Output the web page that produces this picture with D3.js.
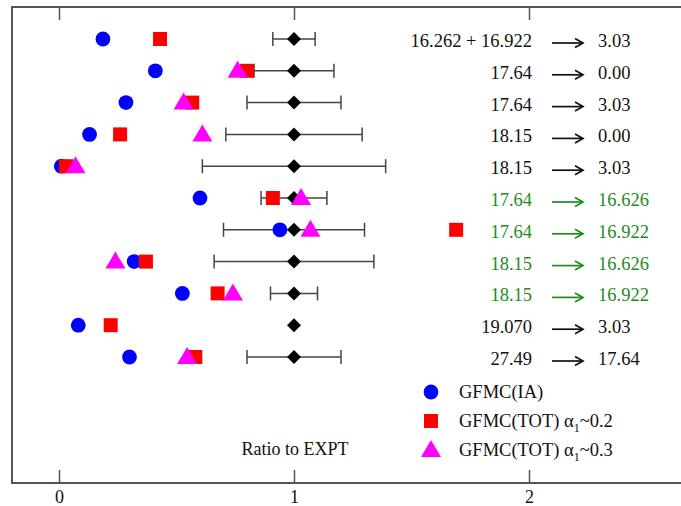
<!DOCTYPE html>
<html>
<head>
<meta charset="utf-8">
<script src="https://cdn.jsdelivr.net/npm/d3@7"></script>
<style>
    body { margin: 0; background: #fff; }
</style>
</head>
<body>
<script>
(function () {
    'use strict';

    // transitions, one per row (top to bottom)
    var fromLabels = ['16.262 + 16.922', '17.64', '17.64', '18.15', '18.15', '17.64', '17.64', '18.15', '18.15', '19.070', '27.49'];
    var toLabels = ['3.03', '0.00', '3.03', '0.00', '3.03', '16.626', '16.922', '16.626', '16.922', '3.03', '17.64'];
    var rowGroup = ['low', 'low', 'low', 'low', 'low', 'high', 'high', 'high', 'high', 'low', 'low'];

    // ratio to experiment
    var exptRatio = [1, 1, 1, 1, 1, 1, 1, 1, 1, 1, 1];
    var exptError = [0.09, 0.17, 0.20, 0.29, 0.39, 0.14, 0.30, 0.34, 0.10, 0, 0.20];
    var gfmcIA = [0.187, 0.41, 0.285, 0.13, 0.01, 0.60, 0.94, 0.32, 0.525, 0.082, 0.30];
    var gfmcTot02 = [0.43, 0.80, 0.567, 0.26, 0.03, 0.91, 1.69, 0.37, 0.675, 0.22, 0.58];
    var gfmcTot03 = [null, 0.76, 0.53, 0.61, 0.07, 1.03, 1.07, 0.24, 0.74, null, 0.545];

    var xTicks = [0, 1, 2];
    var legendLabels = ['GFMC(IA)', 'GFMC(TOT)', 'GFMC(TOT)'];
    var legendAlpha = [null, '~0.2', '~0.3'];

    var width = 681;
    var height = 506;
    var serif = "'Liberation Serif', 'Times New Roman', serif";
    var frameColor = '#555';
    var errColor = '#444';
    var groupColor = { low: '#111', high: '#1d8c1d' };

    var svg = d3.select('body').append('svg')
        .attr('width', width)
        .attr('height', height)
        .attr('font-family', serif)
        .style('display', 'block');

    var x = d3.scaleLinear().domain([0, 2]).range([59, 529]);
    var rowIdx = d3.range(fromLabels.length);
    var y = d3.scalePoint().domain(rowIdx).range([39, 357]);

    var top = 7, bottom = 483;

    // frame (right side falls outside the window)
    svg.append('path')
        .attr('d', 'M' + x(2.9) + ',' + top + 'H' + x(-0.2) + 'V' + bottom + 'H' + x(2.9))
        .attr('fill', 'none')
        .attr('stroke', frameColor)
        .attr('stroke-width', 2);

    var axisB = svg.append('g')
        .attr('transform', 'translate(0,' + bottom + ')')
        .call(d3.axisBottom(x).tickValues(xTicks).tickFormat(d3.format('d'))
            .tickSize(-13).tickPadding(7));
    axisB.attr('font-family', serif).attr('font-size', 18);
    axisB.select('.domain').remove();
    axisB.selectAll('line').attr('stroke', frameColor).attr('stroke-width', 1.5);
    axisB.selectAll('text').attr('fill', '#111');

    var axisT = svg.append('g')
        .attr('transform', 'translate(0,' + top + ')')
        .call(d3.axisTop(x).tickValues(xTicks).tickFormat('').tickSize(-13));
    axisT.select('.domain').remove();
    axisT.selectAll('line').attr('stroke', frameColor).attr('stroke-width', 1.5);

    // experiment error bars
    var errRows = rowIdx.filter(function (i) { return exptError[i] > 0; });
    var err = svg.append('g')
        .attr('stroke', errColor)
        .attr('stroke-width', 1.5);
    err.selectAll('line.bar').data(errRows).enter().append('line')
        .attr('x1', function (i) { return x(exptRatio[i] - exptError[i]); })
        .attr('x2', function (i) { return x(exptRatio[i] + exptError[i]); })
        .attr('y1', function (i) { return y(i); })
        .attr('y2', function (i) { return y(i); });
    [-1, 1].forEach(function (s) {
        err.selectAll('line.cap' + s).data(errRows).enter().append('line')
            .attr('x1', function (i) { return x(exptRatio[i] + s * exptError[i]); })
            .attr('x2', function (i) { return x(exptRatio[i] + s * exptError[i]); })
            .attr('y1', function (i) { return y(i) - 7; })
            .attr('y2', function (i) { return y(i) + 7; });
    });

    var diamond = d3.symbol().type(d3.symbolSquare).size(98)();
    svg.append('g').selectAll('path').data(rowIdx).enter().append('path')
        .attr('d', diamond)
        .attr('fill', '#000')
        .attr('transform', function (i) {
            return 'translate(' + x(exptRatio[i]) + ',' + y(i) + ') rotate(45)';
        });

    function circle(sel) {
        sel.attr('r', 7.4).attr('fill', '#0000ff');
    }
    var squarePath = 'M-7,-7H7V7H-7Z';
    var trianglePath = 'M0,-9L10,8H-10Z';

    svg.append('g').selectAll('circle').data(rowIdx).enter().append('circle')
        .attr('cx', function (i) { return x(gfmcIA[i]); })
        .attr('cy', function (i) { return y(i); })
        .call(circle);

    svg.append('g').selectAll('path').data(rowIdx).enter().append('path')
        .attr('d', squarePath)
        .attr('fill', '#ff0000')
        .attr('transform', function (i) {
            return 'translate(' + x(gfmcTot02[i]) + ',' + y(i) + ')';
        });

    svg.append('g').selectAll('path')
        .data(rowIdx.filter(function (i) { return gfmcTot03[i] !== null; }))
        .enter().append('path')
        .attr('d', trianglePath)
        .attr('fill', '#ff00ff')
        .attr('transform', function (i) {
            return 'translate(' + x(gfmcTot03[i]) + ',' + (y(i) - 1) + ')';
        });

    // transition labels
    var fromX = 532, arrowX1 = 552, arrowX2 = 583, toX = 598;
    var labels = svg.append('g').attr('font-size', 18.5);
    labels.selectAll('text.from').data(rowIdx).enter().append('text')
        .attr('x', fromX)
        .attr('y', function (i) { return y(i) + 8; })
        .attr('text-anchor', 'end')
        .attr('fill', function (i) { return groupColor[rowGroup[i]]; })
        .text(function (i) { return fromLabels[i]; });
    labels.selectAll('text.to').data(rowIdx).enter().append('text')
        .attr('x', toX)
        .attr('y', function (i) { return y(i) + 8; })
        .attr('fill', function (i) { return groupColor[rowGroup[i]]; })
        .text(function (i) { return toLabels[i]; });

    var arrows = labels.selectAll('g.arrow').data(rowIdx).enter().append('g')
        .attr('transform', function (i) { return 'translate(0,' + (y(i) + 4) + ')'; })
        .attr('stroke', function (i) { return groupColor[rowGroup[i]]; })
        .attr('fill', 'none')
        .attr('stroke-width', 1.7);
    arrows.append('path').attr('d', 'M' + arrowX1 + ',0H' + (arrowX2 - 1));
    arrows.append('path').attr('d', 'M' + (arrowX2 - 8) + ',-4.5L' + arrowX2 + ',0L' + (arrowX2 - 8) + ',4.5');

    // legend
    var legY = d3.scalePoint().domain([0, 1, 2]).range([392, 450]);
    var leg = svg.append('g');
    leg.append('circle').attr('cx', 431).attr('cy', legY(0)).call(circle);
    leg.append('path').attr('d', squarePath).attr('fill', '#ff0000')
        .attr('transform', 'translate(431,' + legY(1) + ')');
    leg.append('path').attr('d', trianglePath).attr('fill', '#ff00ff')
        .attr('transform', 'translate(431,' + (legY(2) - 1) + ')');

    var legText = leg.selectAll('text').data([0, 1, 2]).enter().append('text')
        .attr('x', 459)
        .attr('y', function (i) { return legY(i) + 6; })
        .attr('font-size', 18.5)
        .attr('fill', '#111');
    legText.append('tspan').text(function (i) { return legendLabels[i]; });
    legText.filter(function (i) { return legendAlpha[i] !== null; }).each(function (i) {
        var t = d3.select(this);
        t.append('tspan').text(' \u03b1');
        t.append('tspan').attr('font-size', 12).attr('dy', 5).text('1');
        t.append('tspan').attr('dy', -5).text(legendAlpha[i]);
    });

    svg.append('text')
        .attr('x', x(1) + 1)
        .attr('y', 455)
        .attr('text-anchor', 'middle')
        .attr('font-size', 18)
        .attr('fill', '#111')
        .text('Ratio to EXPT');
})();
</script>
</body>
</html>
